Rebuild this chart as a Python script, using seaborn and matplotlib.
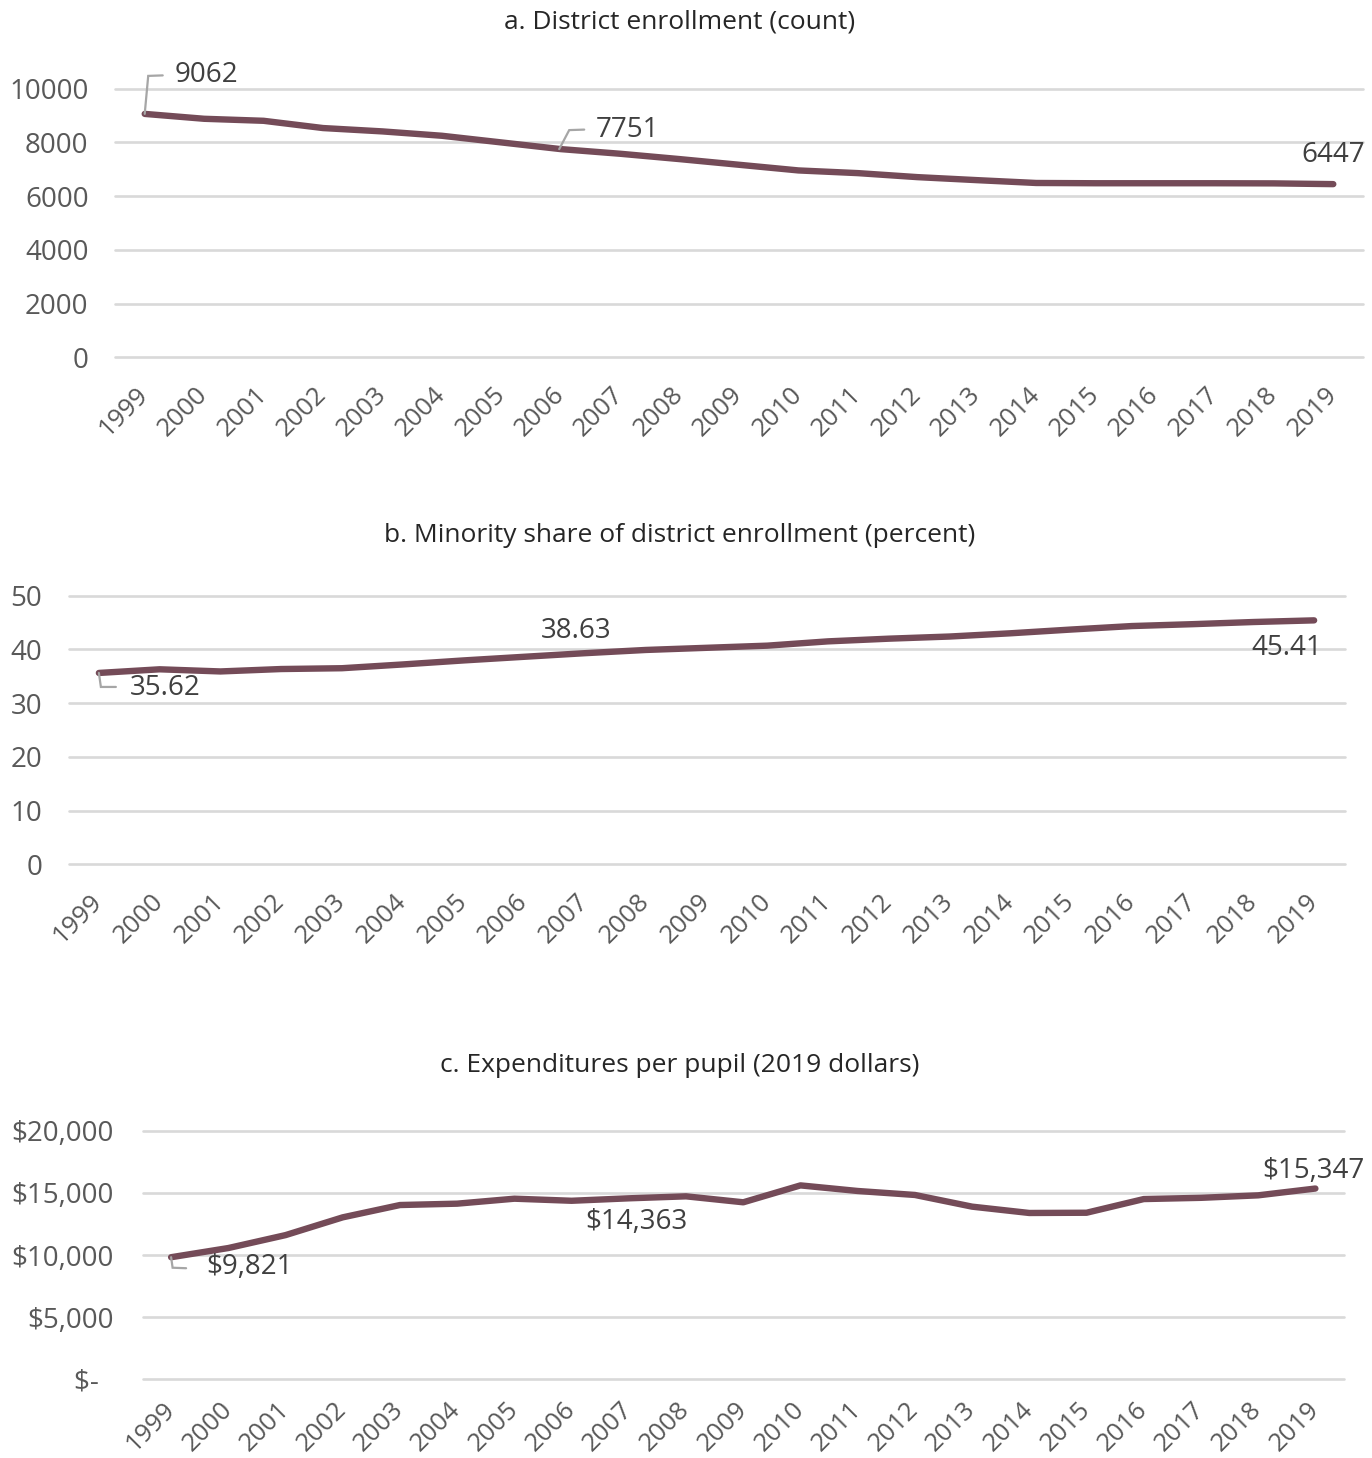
import matplotlib
matplotlib.use("Agg")
import matplotlib.pyplot as plt
from matplotlib.lines import Line2D
from matplotlib.ticker import FixedLocator, FuncFormatter
import seaborn as sns
import pandas as pd

# ---- data -------------------------------------------------------------
years = list(range(1999, 2020))

enrollment = [9062, 8880, 8805, 8535, 8410, 8248, 8000, 7751, 7578, 7379,
              7168, 6957, 6857, 6708, 6596, 6490, 6480, 6480, 6480, 6475, 6447]

minority_share = [35.62, 36.3, 35.9, 36.35, 36.5, 37.2, 37.95, 38.63, 39.3, 39.9,
                  40.3, 40.7, 41.5, 42.0, 42.4, 43.0, 43.7, 44.35, 44.7, 45.1, 45.41]

spend_per_pupil = [9821, 10560, 11600, 13030, 14020, 14130, 14530, 14363, 14560, 14720,
                   14240, 15600, 15150, 14830, 13890, 13380, 13400, 14500, 14600, 14800, 15347]

titles = ["a. District enrollment (count)",
          "b. Minority share of district enrollment (percent)",
          "c. Expenditures per pupil (2019 dollars)"]

# ---- style ------------------------------------------------------------
sns.set_theme(style="white")
plt.rcParams["font.family"] = ["Open Sans", "DejaVu Sans"]

LINE = "#744B58"
GRID = "#D9D9D9"
TICK = "#595959"
LABEL = "#404040"
LEADER = "#A6A6A6"

W, H = 1372, 1458
fig = plt.figure(figsize=(W / 100, H / 100), dpi=100)
fig.patch.set_facecolor("white")


def add_axes_px(left, right, top, bottom):
    return fig.add_axes([left / W, 1 - bottom / H, (right - left) / W, (bottom - top) / H])


def style_axis(ax, ymax, ystep, yfmt, ypad, xpad=24):
    ax.set_xlim(years[0] - 0.5, years[-1] + 0.5)
    ax.set_ylim(0, ymax)
    ax.yaxis.set_major_locator(FixedLocator(list(range(0, ymax + 1, ystep))))
    ax.yaxis.set_major_formatter(FuncFormatter(yfmt))
    ax.set_xticks(years)
    ax.set_xticklabels([str(y) for y in years])
    for s in ax.spines.values():
        s.set_visible(False)
    ax.grid(axis="y", color=GRID, linewidth=1.9)
    ax.grid(axis="x", visible=False)
    ax.tick_params(axis="y", length=0, pad=ypad, labelsize=20, labelcolor=TICK)
    ax.tick_params(axis="x", length=0, pad=xpad, labelsize=18.5, labelcolor=TICK)
    for lab in ax.get_xticklabels():
        lab.set_rotation(45)
        lab.set_ha("right")
        lab.set_va("center")
        lab.set_rotation_mode("anchor")
    ax.set_xlabel("")
    ax.set_ylabel("")
    for gl in ax.get_ygridlines():
        gl.set_clip_on(False)


def label_point(ax, year, value, text, dx, dy, ha="center", leader=None):
    """Place a value label at a pixel offset from its data point,
    optionally with an elbow leader line."""
    fig.canvas.draw()
    px, py = ax.transData.transform((year, value))
    ax.annotate(text, xy=(year, value), xytext=(dx, dy), textcoords="offset pixels",
                ha=ha, va="center", fontsize=20, color=LABEL)
    if leader:
        xs = [px + p[0] for p in leader]
        ys = [py + p[1] for p in leader]
        fig.add_artist(Line2D(xs, ys, transform=None, color=LEADER, linewidth=1.6,
                              solid_joinstyle="miter"))


def draw_series(ax, values):
    df = pd.DataFrame({"year": years, "value": values})
    sns.lineplot(data=df, x="year", y="value", ax=ax, color=LINE, linewidth=4.6,
                 solid_capstyle="round", solid_joinstyle="round")


# ---- panel a ----------------------------------------------------------
ax_a = add_axes_px(115, 1363, 88.7, 357.3)
draw_series(ax_a, enrollment)
style_axis(ax_a, 10000, 2000, lambda v, p: f"{int(v)}", 19)

# ---- panel b ----------------------------------------------------------
ax_b = add_axes_px(68.5, 1344.5, 595.7, 864.3)
draw_series(ax_b, minority_share)
style_axis(ax_b, 50, 10, lambda v, p: f"{int(v)}", 19)

# ---- panel c ----------------------------------------------------------
def dollars(v, p):
    return "$-  " if v == 0 else f"${int(v):,}"


ax_c = add_axes_px(142.5, 1344, 1130.7, 1379.3)
draw_series(ax_c, spend_per_pupil)
style_axis(ax_c, 20000, 5000, dollars, 21, xpad=19)

# ---- titles -----------------------------------------------------------
for t, y in zip(titles, [22, 535, 1065]):
    fig.text(680 / W, 1 - y / H, t, ha="center", va="center", fontsize=19, color="#262626")

# ---- value labels -----------------------------------------------------
i06 = years.index(2006)

label_point(ax_a, years[0], enrollment[0], f"{enrollment[0]}", 30, 39, ha="left",
            leader=[(0, 0), (3.5, 38), (18, 38.5)])
label_point(ax_a, years[i06], enrollment[i06], f"{enrollment[i06]}", 35, 19, ha="left",
            leader=[(-1.5, 0), (8.5, 19), (23.5, 19.5)])
label_point(ax_a, years[-1], enrollment[-1], f"{enrollment[-1]}", 0, 29)

label_point(ax_b, years[0], minority_share[0], f"{minority_share[0]:.2f}", 31, -15, ha="left",
            leader=[(0, 0), (2, -14), (17, -14)])
label_point(ax_b, years[i06], minority_share[i06], f"{minority_share[i06]:.2f}", 52, 26)
label_point(ax_b, years[-1], minority_share[-1], f"{minority_share[-1]:.2f}", -27, -27.5)

label_point(ax_c, years[0], spend_per_pupil[0], f"${spend_per_pupil[0]:,}", 35.5, -10, ha="left",
            leader=[(0, 0), (1.5, -10.5), (15, -11)])
label_point(ax_c, years[i06], spend_per_pupil[i06], f"${spend_per_pupil[i06]:,}", 64.5, -21)
label_point(ax_c, years[-1], spend_per_pupil[-1], f"${spend_per_pupil[-1]:,}", -2, 17.5)

fig.savefig("out.png", dpi=100, facecolor="white")
